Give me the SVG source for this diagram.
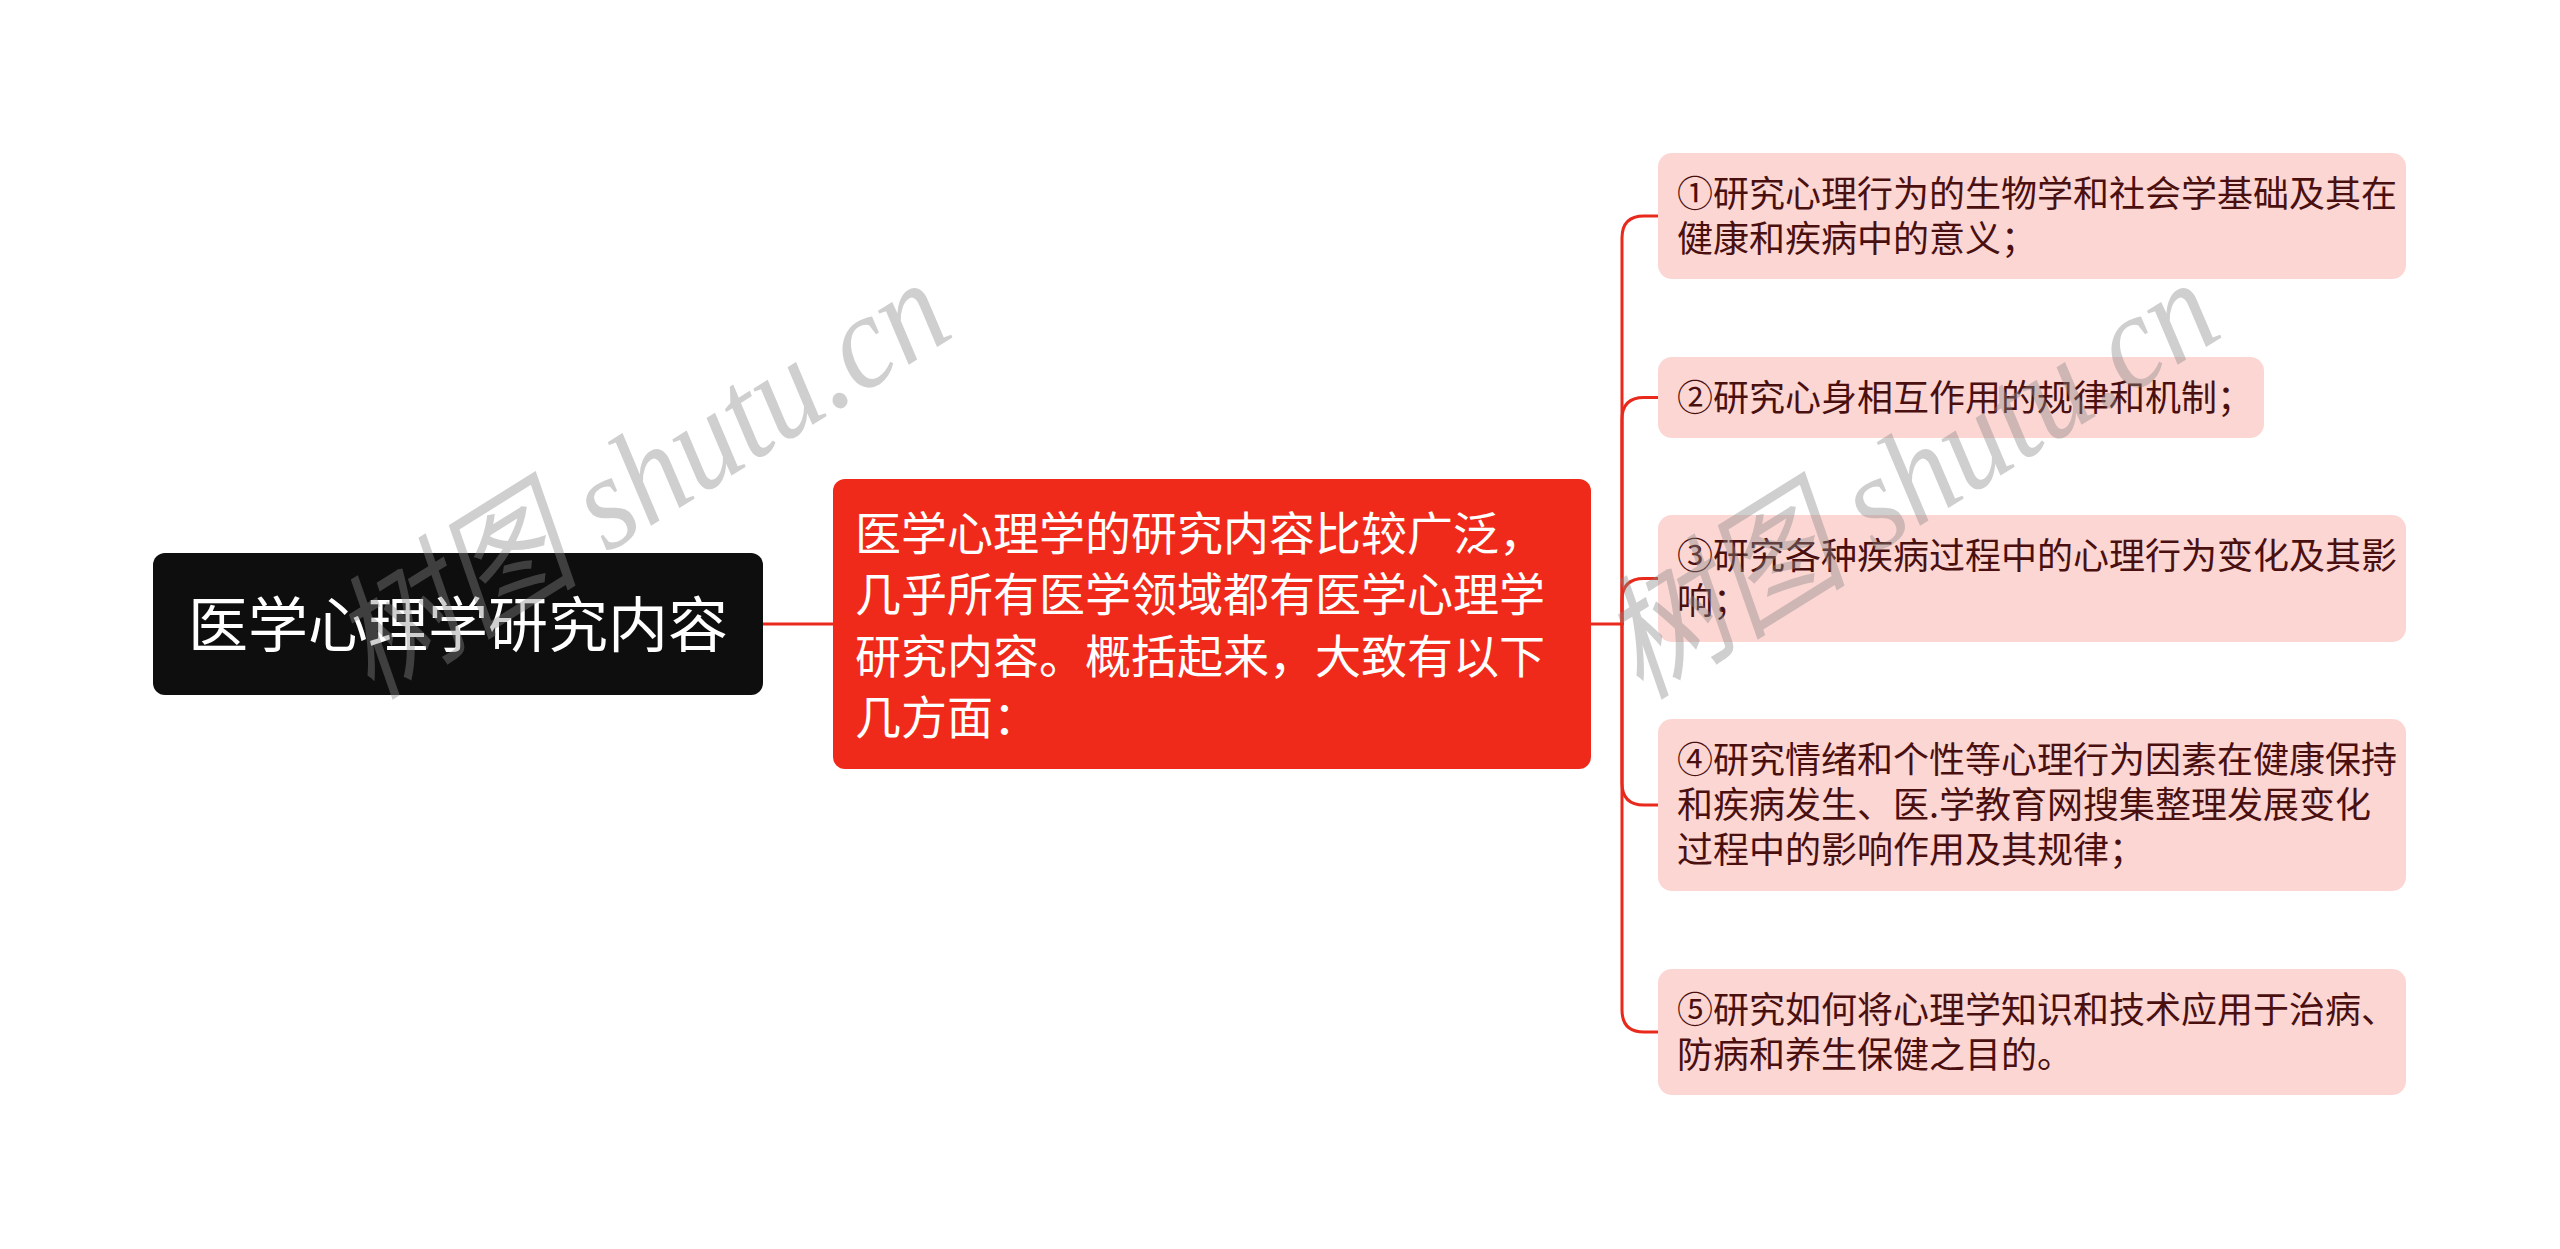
<svg xmlns="http://www.w3.org/2000/svg" width="2560" height="1249" viewBox="0 0 2560 1249">
<style>
.cjk{font-family:"Noto Sans CJK SC","Noto Sans",sans-serif;}
.root-t{font-size:60px;fill:#ffffff;}
.mid-t{font-size:46px;fill:#ffffff;}
.leaf{fill:#fcd6d3;}
.leaf-t{font-size:36px;fill:#4a1010;}
.conn{fill:none;stroke:#e8291b;stroke-width:3;stroke-linecap:round;}
.wm{font-family:"Liberation Serif","Noto Sans CJK SC",serif;font-style:italic;font-size:135px;fill:#888888;opacity:0.4;}
</style>
<rect width="2560" height="1249" fill="#ffffff"/>
<g id="connectors">
<path class="conn" d="M763,624 L833,624"/>
<path class="conn" d="M1591,624 L1622,624"/>
<path class="conn" d="M1622,624 L1622,238 Q1622,216 1644,216 L1658,216"/>
<path class="conn" d="M1622,624 L1622,419.5 Q1622,397.5 1644,397.5 L1658,397.5"/>
<path class="conn" d="M1622,624 L1622,600.5 Q1622,578.5 1644,578.5 L1658,578.5"/>
<path class="conn" d="M1622,624 L1622,783 Q1622,805 1644,805 L1658,805"/>
<path class="conn" d="M1622,624 L1622,1010 Q1622,1032 1644,1032 L1658,1032"/>
</g>
<g id="root">
<rect x="153" y="553" width="610" height="142" rx="12" fill="#0e0e0e"/>
<text class="cjk root-t" x="458" y="647" text-anchor="middle">医学心理学研究内容</text>
</g>
<g id="middle">
<rect x="833" y="479" width="758" height="290" rx="12" fill="#f02a1b"/>
<text class="cjk mid-t" x="855" y="549.5">医学心理学的研究内容比较广泛，</text>
<text class="cjk mid-t" x="855" y="611">几乎所有医学领域都有医学心理学</text>
<text class="cjk mid-t" x="855" y="672.5">研究内容。概括起来，大致有以下</text>
<text class="cjk mid-t" x="855" y="734">几方面：</text>
</g>
<g id="n1">
<rect class="leaf" x="1658" y="153" width="748" height="126" rx="14"/>
<text class="cjk leaf-t" x="1677" y="207">①研究心理行为的生物学和社会学基础及其在</text>
<text class="cjk leaf-t" x="1677" y="252">健康和疾病中的意义；</text>
</g>
<g id="n2">
<rect class="leaf" x="1658" y="357" width="606" height="81" rx="14"/>
<text class="cjk leaf-t" x="1677" y="411">②研究心身相互作用的规律和机制；</text>
</g>
<g id="n3">
<rect class="leaf" x="1658" y="515" width="748" height="127" rx="14"/>
<text class="cjk leaf-t" x="1677" y="569">③研究各种疾病过程中的心理行为变化及其影</text>
<text class="cjk leaf-t" x="1677" y="614">响；</text>
</g>
<g id="n4">
<rect class="leaf" x="1658" y="719" width="748" height="172" rx="14"/>
<text class="cjk leaf-t" x="1677" y="773">④研究情绪和个性等心理行为因素在健康保持</text>
<text class="cjk leaf-t" x="1677" y="818">和疾病发生、医.学教育网搜集整理发展变化</text>
<text class="cjk leaf-t" x="1677" y="863">过程中的影响作用及其规律；</text>
</g>
<g id="n5">
<rect class="leaf" x="1658" y="969" width="748" height="126" rx="14"/>
<text class="cjk leaf-t" x="1677" y="1023">⑤研究如何将心理学知识和技术应用于治病、</text>
<text class="cjk leaf-t" x="1677" y="1068">防病和养生保健之目的。</text>
</g>
<g id="watermarks">
<text class="wm" transform="translate(372,700) rotate(-32)" textLength="690" lengthAdjust="spacingAndGlyphs">树图 shutu.cn</text>
<text class="wm" transform="translate(1641,700) rotate(-32)" textLength="690" lengthAdjust="spacingAndGlyphs">树图 shutu.cn</text>
</g>
</svg>
